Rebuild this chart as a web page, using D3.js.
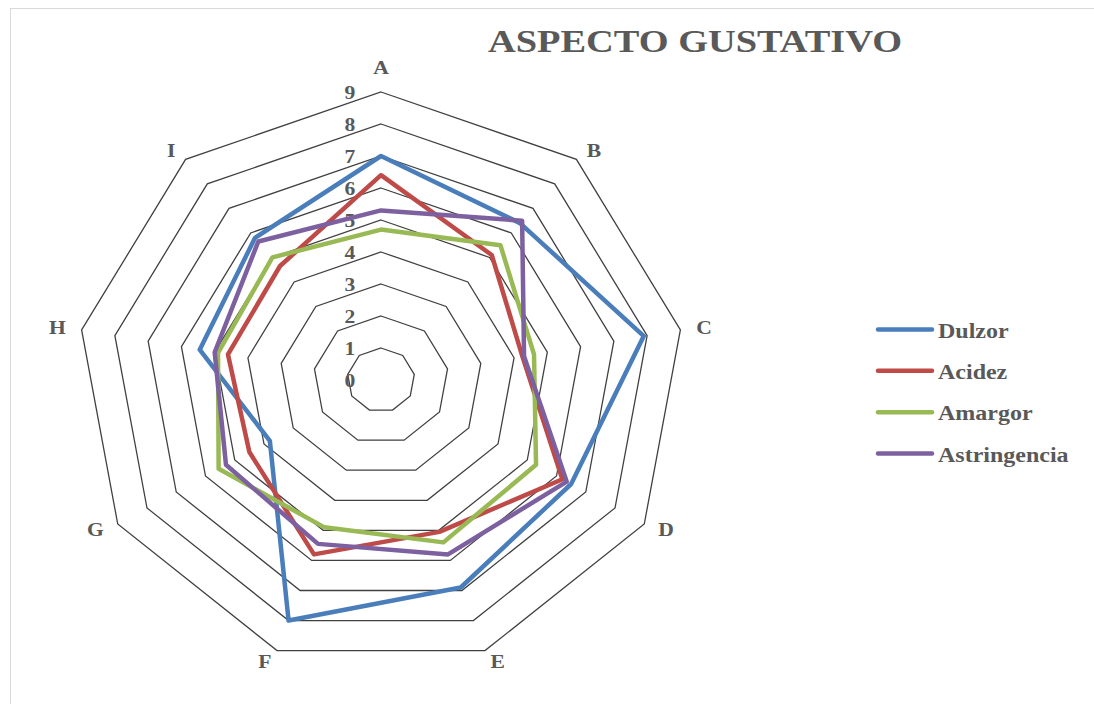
<!DOCTYPE html>
<html>
<head>
<meta charset="utf-8">
<script src="https://cdn.jsdelivr.net/npm/d3@7"></script>
<style>
  html, body { margin: 0; padding: 0; background: #ffffff; }
  svg { display: block; }
  text { font-family: "Liberation Serif", "Times New Roman", serif; font-weight: bold; fill: #595959; }
</style>
</head>
<body>
<svg id="chart" width="1094" height="704"></svg>
<script>
// Taste attributes (radar axes)
const categories = ["A", "B", "C", "D", "E", "F", "G", "H", "I"];

// Series scores per attribute, 0–9 scale
const seriesNames = ["Dulzor", "Acidez", "Amargor", "Astringencia"];
const dulzor       = [7.0, 6.4, 7.9, 6.5, 6.9, 8.0, 3.8, 5.45, 5.8];
const acidez       = [6.4, 5.1, 4.25, 6.2, 5.05, 5.8, 4.5, 4.6, 4.65];
const amargor      = [4.7, 5.5, 4.6, 5.3, 5.4, 4.9, 5.55, 4.9, 5.0];
const astringencia = [5.3, 6.5, 4.3, 6.35, 5.8, 5.45, 5.3, 5.0, 5.65];

// Radial tick labels
const tickValues = [0, 1, 2, 3, 4, 5, 6, 7, 8, 9];

const seriesColors = ["#4A7EBB", "#BE4B48", "#98B954", "#7D60A0"];
const seriesValues = [dulzor, acidez, amargor, astringencia];

const svg = d3.select("#chart");
const W = 1094, H = 704;
const TEXT_STRETCH = 1.2; // horizontal widening applied to all chart text

// Places a text element at (x, y), widened horizontally about its anchor
function placeText(sel, x, y) {
  sel.attr("x", 0).attr("y", 0)
     .attr("transform", `translate(${x},${y}) scale(${TEXT_STRETCH},1)`);
}

// Chart frame
svg.append("rect")
  .attr("x", 10.5).attr("y", 8.5)
  .attr("width", W).attr("height", H)
  .attr("fill", "#ffffff")
  .attr("stroke", "#d9d9d9").attr("stroke-width", 1);

// Plot geometry: the plot area is slightly wider than tall
const cx = 381, cy = 380;
const rx = d3.scaleLinear().domain([0, 9]).range([0, 304]);
const ry = d3.scaleLinear().domain([0, 9]).range([0, 288]);
const angle = d3.scalePoint().domain(categories).range([0, 2 * Math.PI * (categories.length - 1) / categories.length]);

function pt(cat, v) {
  const a = angle(cat);
  return [cx + rx(v) * Math.sin(a), cy - ry(v) * Math.cos(a)];
}

// Grid rings
const ringLine = d3.line().curve(d3.curveLinearClosed);
const gGrid = svg.append("g");
tickValues.filter(t => t > 0).forEach(t => {
  gGrid.append("path")
    .attr("d", ringLine(categories.map(c => pt(c, t))))
    .attr("fill", "none")
    .attr("stroke", "#404040")
    .attr("stroke-width", 1.3);
});

// Tick labels along the first axis
svg.append("g").selectAll("text")
  .data(tickValues)
  .join("text")
  .each(function (d) { placeText(d3.select(this), cx - 31, cy - ry(d) + 1); })
  .attr("text-anchor", "middle")
  .attr("dominant-baseline", "central")
  .attr("font-size", 18)
  .text(d => d);

// Axis (category) labels
svg.append("g").selectAll("text")
  .data(categories)
  .join("text")
  .each(function (c) {
    const a = angle(c);
    const s = Math.sin(a), co = Math.cos(a);
    const vertical = Math.abs(s) < 0.05;
    const x = cx + (rx(9) + 16) * s;
    const y = cy - (ry(9) + (vertical ? 24 : 12)) * co;
    placeText(d3.select(this), x, y);
    d3.select(this)
      .attr("text-anchor", vertical ? "middle" : (s > 0 ? "start" : "end"))
      .attr("dominant-baseline", "central");
  })
  .attr("font-size", 18)
  .text(c => c);

// Series polygons
const gSeries = svg.append("g");
seriesValues.forEach((vals, i) => {
  gSeries.append("path")
    .attr("d", ringLine(categories.map((c, k) => pt(c, vals[k]))))
    .attr("fill", "none")
    .attr("stroke", seriesColors[i])
    .attr("stroke-width", 4.5)
    .attr("stroke-linejoin", "round");
});

// Title
svg.append("text")
  .call(placeText, 695, 52)
  .attr("text-anchor", "middle")
  .attr("font-size", 32)
  .text("ASPECTO GUSTATIVO");

// Legend
const ly = d3.scalePoint().domain(seriesNames).range([329.5, 453.5]);
const gLeg = svg.append("g");
seriesNames.forEach((n, i) => {
  gLeg.append("line")
    .attr("x1", 878).attr("x2", 932)
    .attr("y1", ly(n)).attr("y2", ly(n))
    .attr("stroke", seriesColors[i])
    .attr("stroke-width", 4.5)
    .attr("stroke-linecap", "round");
  gLeg.append("text")
    .call(placeText, 938, ly(n) + 8)
    .attr("font-size", 20)
    .text(n);
});
</script>
</body>
</html>
